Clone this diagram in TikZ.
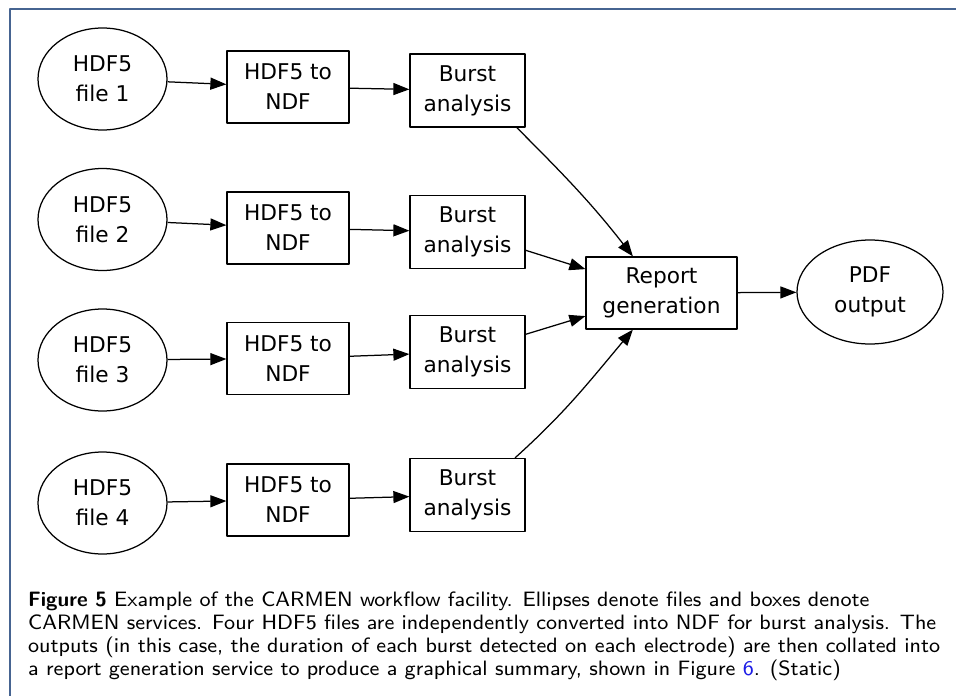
\documentclass[tikz,border=0pt]{standalone}
\usepackage{fontspec}
\newfontfamily\dv{DejaVu Sans}
\newfontfamily\capf{lmsans8-regular.otf}[BoldFont=lmsans10-bold.otf]
\usetikzlibrary{shapes.geometric,arrows.meta}
\definecolor{framecol}{RGB}{70,100,145}
\definecolor{linkblue}{RGB}{30,30,230}
\begin{document}
\begin{tikzpicture}[x=1pt,y=-1pt,>={Triangle[length=16pt,width=12pt]},line join=round,
txt/.style={font=\dv\fontsize{21.7}{30}\selectfont,align=center,inner sep=0pt,line width=1.25pt},
fl/.style={txt,ellipse,draw,minimum width=129pt,minimum height=102pt},
sv/.style={txt,rectangle,draw,minimum width=122pt,minimum height=72pt},
bu/.style={sv,minimum width=115pt,minimum height=73pt}]
\useasboundingbox (0,0) rectangle (956,696);
\draw[framecol,line width=1.5pt] (10,696)--(10,9)--(956,9);
\path(102.5,79)node[fl](f1){HDF5\\file 1} (288,87)node[sv](c1){HDF5 to\\NDF} (467.5,90.5)node[bu](b1){Burst\\analysis}
(102.5,219.5)node[fl](f2){HDF5\\file 2} (288,228)node[sv](c2){HDF5 to\\NDF} (467.5,232)node[bu](b2){Burst\\analysis}
(102.5,360)node[fl](f3){HDF5\\file 3} (288,358.5)node[sv](c3){HDF5 to\\NDF} (467.5,352)node[bu](b3){Burst\\analysis}
(102.5,503)node[fl](f4){HDF5\\file 4} (288,500)node[sv](c4){HDF5 to\\NDF} (467.5,495)node[bu](b4){Burst\\analysis}
(661.5,293)node[sv,minimum width=151pt](r){Report\\generation}
(870,292)node[fl,minimum width=146pt,minimum height=104pt](p){PDF\\output}
;
\draw[->,line width=1.25pt](f1)--(c1); \draw[->,line width=1.25pt](c1)--(b1);
\draw[->,line width=1.25pt](f2)--(c2); \draw[->,line width=1.25pt](c2)--(b2);
\draw[->,line width=1.25pt](f3)--(c3); \draw[->,line width=1.25pt](c3)--(b3);
\draw[->,line width=1.25pt](f4)--(c4); \draw[->,line width=1.25pt](c4)--(b4);
\draw[->,line width=1.25pt](b1.-37) to[out=-45,in=128] (r.128);
\draw[->,line width=1.25pt](b2)--(r); \draw[->,line width=1.25pt](b3)--(r);
\draw[->,line width=1.25pt](b4.38) to[out=42,in=-130] (r.-128);
\draw[->,line width=1.25pt](r)--(p);
\node[anchor=north west,inner sep=0pt,align=left,font=\capf\fontsize{20.8}{22.8}\selectfont](cap) at (28,592)
{\textbf{Figure 5} Example of the CARMEN workflow facility. Ellipses denote files and boxes denote\\
CARMEN services. Four HDF5 files are independently converted into NDF for burst analysis. The\\
outputs (in this case, the duration of each burst detected on each electrode) are then collated into\\
a report generation service to produce a graphical summary, shown in Figure \textcolor{linkblue}{6}. (Static)};
\end{tikzpicture}
\end{document}
